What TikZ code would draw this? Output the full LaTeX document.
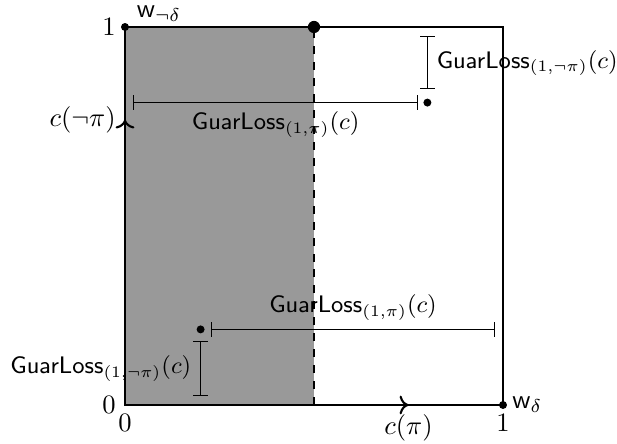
\documentclass[tikz,border=0pt]{standalone}
\usetikzlibrary{arrows.meta}
\begin{document}
\begin{tikzpicture}[x=5cm,y=5cm,
  dot/.style={circle,fill,inner sep=0pt,minimum size=3pt},
  bigdot/.style={circle,fill,inner sep=0pt,minimum size=4.6pt},
  interval/.style={{Bar[width=5.5pt]}-{Bar[width=5.5pt]}},
  gl/.style={font=\fontsize{9.2pt}{11pt}\selectfont},
  axisline/.style={thick,->}]
\useasboundingbox (-0.3307,-0.1032) rectangle (1.3016,1.0714);
% shaded half and square
\fill[black!40] (0,0) rectangle (0.5,1);
\draw (0,0) rectangle (1,1);
\coordinate (O) at (0,0);
\coordinate (TL) at (0,1);
\coordinate (BR) at (1,0);
\coordinate (MT) at (0.5,1);
\coordinate (MB) at (0.5,0);
\draw[dashed] (MB) -- (MT);
% axes
\coordinate (xend) at (0.75,0);
\coordinate (yend) at (0,0.755);
\draw[axisline] (O) -- (xend);
\draw[axisline] (O) -- (yend);
\node[below] (xl) at (xend) {$c(\pi)$};
\node[left] (yl) at (yend) {$c(\neg\pi)$};
% tick labels
\node[left] (y1) at (TL) {$1$};
\node[left] (y0) at (O) {$0$};
\node[below] (x0) at (O) {$0$};
\node[below] (x1) at (BR) {$1$};
% corner dots
\node[dot] (wnd) at (TL) {};
\node[dot] (wd) at (BR) {};
\node[bigdot] (mid) at (MT) {};
\node[anchor=base west,inner sep=0pt,xshift=4.3pt,yshift=3.6pt] (wndl) at (TL) {$\mathsf{w}_{\neg\delta}$};
\node[right] (wdl) at (BR) {$\mathsf{w}_{\delta}$};
% upper point
\node[dot] (p1) at (0.8,0.8) {};
\coordinate (h1a) at (0.022,0.8);
\coordinate (h1b) at (0.775,0.8);
\draw[interval] (h1a) -- (h1b) node[gl,midway,below] (h1l) {$\mathsf{GuarLoss}_{(1,\pi)}(c)$};
\coordinate (v1a) at (0.8,0.835);
\coordinate (v1b) at (0.8,0.975);
\draw[interval] (v1a) -- (v1b) node[gl,midway,right] (v1l) {$\mathsf{GuarLoss}_{(1,\neg\pi)}(c)$};
% lower point
\node[dot] (p2) at (0.2,0.2) {};
\coordinate (h2a) at (0.2275,0.2);
\coordinate (h2b) at (0.979,0.2);
\draw[interval] (h2a) -- (h2b) node[gl,midway,above] (h2l) {$\mathsf{GuarLoss}_{(1,\pi)}(c)$};
\coordinate (v2a) at (0.2,0.024);
\coordinate (v2b) at (0.2,0.169);
\draw[interval] (v2a) -- (v2b) node[gl,midway,left] (v2l) {$\mathsf{GuarLoss}_{(1,\neg\pi)}(c)$};
\end{tikzpicture}
\end{document}
